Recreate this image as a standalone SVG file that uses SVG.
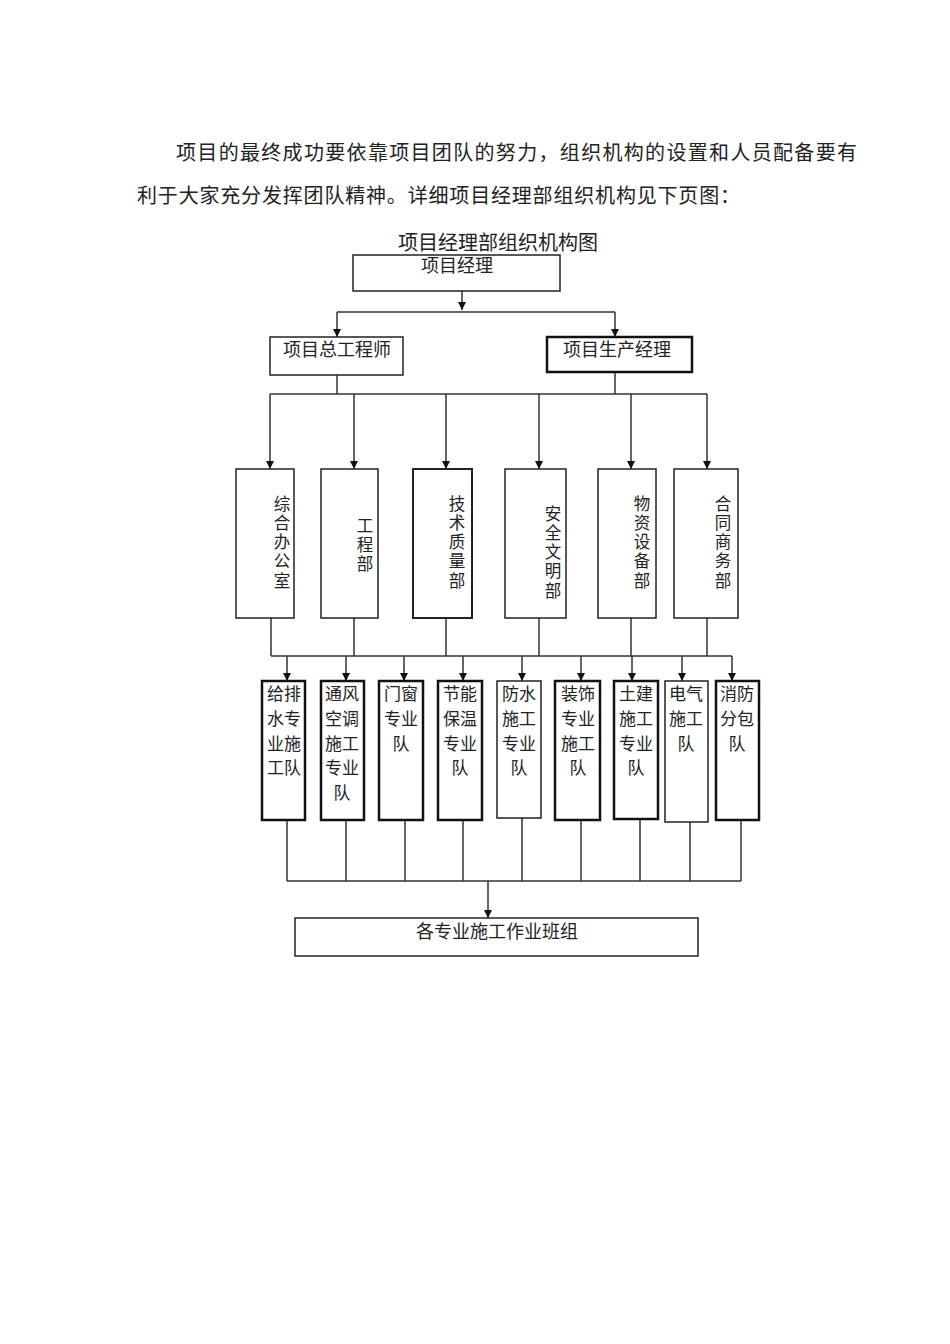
<svg xmlns="http://www.w3.org/2000/svg" width="950" height="1344" viewBox="0 0 950 1344">
<style>
text{font-family:"Noto Sans CJK SC","Noto Sans",sans-serif;fill:#222}
.p{font-size:20px}
.t{font-size:18px;text-anchor:middle}
.v{font-size:16.5px;text-anchor:middle}
.s{font-size:17px;text-anchor:middle}
.b{fill:#fff;stroke:#222;stroke-width:1.5}
.bb{fill:#fff;stroke:#111;stroke-width:2.5}
.l{stroke:#333;stroke-width:1.5;fill:none}
</style>
<defs><marker id="a" viewBox="0 0 10 10" refX="10" refY="5" markerWidth="8" markerHeight="8" markerUnits="userSpaceOnUse" orient="auto"><path d="M0,0L10,5L0,10z" fill="#111"/></marker></defs>
<rect width="950" height="1344" fill="#fff"/>
<text class="p" x="176" y="160" textLength="681">项目的最终成功要依靠项目团队的努力，组织机构的设置和人员配备要有</text>
<text class="p" x="137" y="203" textLength="603">利于大家充分发挥团队精神。详细项目经理部组织机构见下页图：</text>
<text class="t" x="498" y="250" style="font-size:20px">项目经理部组织机构图</text>
<g id="connectors">
<path class="l" d="M462,291V310" marker-end="url(#a)"/>
<path class="l" d="M337,312H615"/>
<path class="l" d="M337,312V337" marker-end="url(#a)"/>
<path class="l" d="M615,312V337" marker-end="url(#a)"/>
<path class="l" d="M337,375V394M615,372V394M270,394H707"/>
<path class="l" d="M270,394V469" marker-end="url(#a)"/>
<path class="l" d="M354,394V469" marker-end="url(#a)"/>
<path class="l" d="M446,394V469" marker-end="url(#a)"/>
<path class="l" d="M539,394V469" marker-end="url(#a)"/>
<path class="l" d="M631,394V469" marker-end="url(#a)"/>
<path class="l" d="M707,394V469" marker-end="url(#a)"/>
<path class="l" d="M271,618V656M354,618V656M446,618V656M539,618V656M631,618V656M707,618V656M271,656H732"/>
<path class="l" d="M287,656V681" marker-end="url(#a)"/>
<path class="l" d="M346,656V681" marker-end="url(#a)"/>
<path class="l" d="M404,656V681" marker-end="url(#a)"/>
<path class="l" d="M463,656V681" marker-end="url(#a)"/>
<path class="l" d="M522,656V681" marker-end="url(#a)"/>
<path class="l" d="M581,656V681" marker-end="url(#a)"/>
<path class="l" d="M632,656V681" marker-end="url(#a)"/>
<path class="l" d="M682,656V681" marker-end="url(#a)"/>
<path class="l" d="M732,656V681" marker-end="url(#a)"/>
<path class="l" d="M287,820V881M346,820V881M405,820V881M463,820V881M522,818V881M581,820V881M640,819V881M690,822V881M741,820V881M287,881H741"/>
<path class="l" d="M488,881V918" marker-end="url(#a)"/>
</g>
<g id="pm"><rect class="b" x="353" y="255" width="207" height="36"/><text class="t" x="457" y="272">项目经理</text></g>
<g id="chief"><rect class="b" x="270" y="337" width="133" height="38"/><text class="t" x="337" y="356">项目总工程师</text></g>
<g id="prod"><rect class="bb" x="547" y="337" width="145" height="35"/><text class="t" x="617" y="356">项目生产经理</text></g>
<g id="d1"><rect class="b" x="236" y="469" width="58" height="149"/><text class="v"><tspan x="282" y="510">综</tspan><tspan x="282" y="529">合</tspan><tspan x="282" y="548">办</tspan><tspan x="282" y="567">公</tspan><tspan x="282" y="587">室</tspan></text></g>
<g id="d2"><rect class="b" x="321" y="469" width="57" height="149"/><text class="v"><tspan x="365" y="532">工</tspan><tspan x="365" y="551">程</tspan><tspan x="365" y="570">部</tspan></text></g>
<g id="d3"><rect class="b" x="413" y="469" width="59" height="149" style="stroke-width:2"/><text class="v"><tspan x="457" y="510">技</tspan><tspan x="457" y="529">术</tspan><tspan x="457" y="548">质</tspan><tspan x="457" y="567">量</tspan><tspan x="457" y="587">部</tspan></text></g>
<g id="d4"><rect class="b" x="505" y="469" width="61" height="149"/><text class="v"><tspan x="553" y="520">安</tspan><tspan x="553" y="539">全</tspan><tspan x="553" y="558">文</tspan><tspan x="553" y="577">明</tspan><tspan x="553" y="597">部</tspan></text></g>
<g id="d5"><rect class="b" x="598" y="469" width="58" height="149"/><text class="v"><tspan x="642" y="510">物</tspan><tspan x="642" y="529">资</tspan><tspan x="642" y="548">设</tspan><tspan x="642" y="567">备</tspan><tspan x="642" y="587">部</tspan></text></g>
<g id="d6"><rect class="b" x="674" y="469" width="64" height="149"/><text class="v"><tspan x="723" y="510">合</tspan><tspan x="723" y="529">同</tspan><tspan x="723" y="548">商</tspan><tspan x="723" y="567">务</tspan><tspan x="723" y="587">部</tspan></text></g>
<g id="t1"><rect class="bb" x="262" y="681" width="43" height="139"/><text class="s"><tspan x="284" y="700">给排</tspan><tspan x="284" y="725">水专</tspan><tspan x="284" y="750">业施</tspan><tspan x="284" y="774">工队</tspan></text></g>
<g id="t2"><rect class="bb" x="321" y="681" width="43" height="139"/><text class="s"><tspan x="342" y="700">通风</tspan><tspan x="342" y="725">空调</tspan><tspan x="342" y="750">施工</tspan><tspan x="342" y="774">专业</tspan><tspan x="342" y="799">队</tspan></text></g>
<g id="t3"><rect class="bb" x="379" y="681" width="44" height="139"/><text class="s"><tspan x="401" y="700">门窗</tspan><tspan x="401" y="725">专业</tspan><tspan x="401" y="750">队</tspan></text></g>
<g id="t4"><rect class="bb" x="438" y="681" width="44" height="139"/><text class="s"><tspan x="460" y="700">节能</tspan><tspan x="460" y="725">保温</tspan><tspan x="460" y="750">专业</tspan><tspan x="460" y="774">队</tspan></text></g>
<g id="t5"><rect class="b" x="497" y="681" width="44" height="137"/><text class="s"><tspan x="519" y="700">防水</tspan><tspan x="519" y="725">施工</tspan><tspan x="519" y="750">专业</tspan><tspan x="519" y="774">队</tspan></text></g>
<g id="t6"><rect class="bb" x="555" y="681" width="45" height="139"/><text class="s"><tspan x="578" y="700">装饰</tspan><tspan x="578" y="725">专业</tspan><tspan x="578" y="750">施工</tspan><tspan x="578" y="774">队</tspan></text></g>
<g id="t7"><rect class="bb" x="614" y="681" width="44" height="138"/><text class="s"><tspan x="636" y="700">土建</tspan><tspan x="636" y="725">施工</tspan><tspan x="636" y="750">专业</tspan><tspan x="636" y="774">队</tspan></text></g>
<g id="t8"><rect class="b" x="665" y="681" width="43" height="141"/><text class="s"><tspan x="686" y="700">电气</tspan><tspan x="686" y="725">施工</tspan><tspan x="686" y="750">队</tspan></text></g>
<g id="t9"><rect class="bb" x="716" y="681" width="43" height="139"/><text class="s"><tspan x="737" y="700">消防</tspan><tspan x="737" y="725">分包</tspan><tspan x="737" y="750">队</tspan></text></g>
<g id="crew"><rect class="b" x="295" y="918" width="403" height="38"/><text class="t" x="497" y="938">各专业施工作业班组</text></g>
</svg>
